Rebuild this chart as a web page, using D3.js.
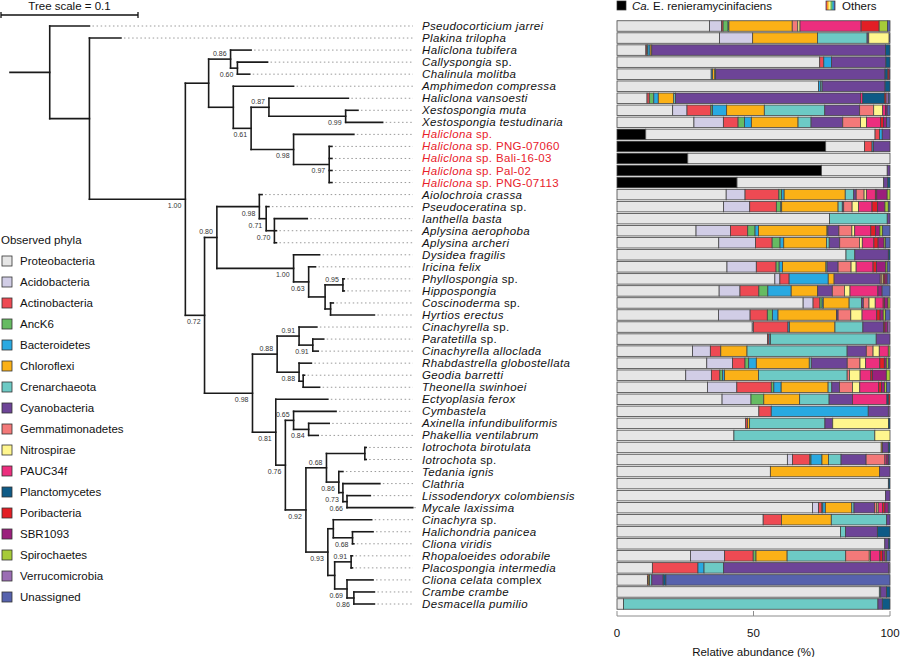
<!DOCTYPE html>
<html>
<head>
<meta charset="utf-8">
<script src="https://cdn.jsdelivr.net/npm/d3@7"></script>
<style>
  body { margin: 0; background: #fff; }
  text { font-family: "Liberation Sans", Arial, sans-serif; }
</style>
</head>
<body>
<svg id="chart" width="900" height="657"></svg>
<script>
// sponge species, in tree (top to bottom) order; text after "|" is upright
const species = [
  "Pseudocorticium jarrei", "Plakina trilopha", "Haliclona tubifera", "Callyspongia| sp.",
  "Chalinula molitba", "Amphimedon compressa", "Haliclona vansoesti", "Xestospongia muta",
  "Xestospongia testudinaria", "Haliclona| sp.", "Haliclona| sp. PNG-07060", "Haliclona| sp. Bali-16-03",
  "Haliclona| sp. Pal-02", "Haliclona| sp. PNG-07113", "Aiolochroia crassa", "Pseudoceratina| sp.",
  "Ianthella basta", "Aplysina aerophoba", "Aplysina archeri", "Dysidea fragilis",
  "Iricina felix", "Phyllospongia| sp.", "Hippospongia", "Coscinoderma| sp.",
  "Hyrtios erectus", "Cinachyrella| sp.", "Paratetilla| sp.", "Cinachyrella alloclada",
  "Rhabdastrella globostellata", "Geodia barretti", "Theonella swinhoei", "Ectyoplasia ferox",
  "Cymbastela", "Axinella infundibuliformis", "Phakellia ventilabrum", "Iotrochota birotulata",
  "Iotrochota| sp.", "Tedania ignis", "Clathria", "Lissodendoryx colombiensis",
  "Mycale laxissima", "Cinachyra| sp.", "Halichondria panicea", "Cliona viridis",
  "Rhopaloeides odorabile", "Placospongia intermedia", "Cliona celata| complex", "Crambe crambe",
  "Desmacella pumilio"
];
// Haliclona hosts of Ca. E. renieramycinifaciens (red labels)
const highlighted = [9, 10, 11, 12, 13];

// tree: L(leaf index, branch length), N(branch length, support, label side, children)
const L = (i, l) => ({ leaf: i, l });
const N = (l, s, p, c) => ({ l, s, p, c });
const tree = N(0.029, null, null, [
  L(0, 0.029),
  N(0.029, null, null, [
    L(1, 0.023),
    N(0.070, "1.00", "b", [
      N(0.017, null, null, [
        N(0.016, "0.86", "a", [
          L(2, 0.015),
          N(0.005, "0.60", "b", [L(3, 0.022), L(4, 0.009)])
        ]),
        N(0.018, null, null, [
          L(5, 0.044),
          N(0.013, "0.61", "b", [
            N(0.013, "0.87", "a", [
              L(6, 0.058),
              N(0.056, "0.99", "b", [L(7, 0.009), L(8, 0.027)])
            ]),
            N(0.031, "0.98", "b", [
              L(9, 0.044),
              N(0.026, "0.97", "b", [L(10, 0.002), L(11, 0.002), L(12, 0.002), L(13, 0.002)])
            ])
          ])
        ])
      ]),
      N(0.014, "0.72", "b", [
        N(0.009, "0.80", "a", [
          N(0.031, "0.98", "b", [
            L(14, 0.002),
            N(0.005, "0.71", "b", [
              L(15, 0.002),
              N(0.006, "0.70", "b", [L(16, 0.024), L(17, 0.0015), L(18, 0.0015)])
            ])
          ]),
          N(0.056, "1.00", "b", [
            L(19, 0.019),
            N(0.011, "0.63", "b", [
              L(20, 0.005),
              N(0.012, null, null, [
                N(0.013, "0.95", "a", [L(21, 0.001), L(22, 0.001)]),
                N(0.004, null, null, [L(23, 0.002), L(24, 0.032)])
              ])
            ])
          ])
        ]),
        N(0.035, "0.98", "b", [
          N(0.018, "0.88", "a", [
            N(0.016, "0.91", "a", [
              L(25, 0.013),
              N(0.010, "0.91", "b", [L(26, 0.008), L(27, 0.004)])
            ]),
            N(0.016, "0.88", "b", [
              L(28, 0.009),
              N(0.003, null, null, [L(29, 0.001), L(30, 0.012)])
            ])
          ]),
          N(0.017, "0.81", "b", [
            L(31, 0.038),
            N(0.007, "0.76", "b", [
              N(0.006, "0.65", "a", [
                L(32, 0.031),
                N(0.011, "0.84", "b", [L(33, 0.015), L(34, 0.007)])
              ]),
              N(0.015, "0.92", "b", [
                N(0.015, "0.68", "a", [
                  N(0.028, null, null, [L(35, 0.001), L(36, 0.001)]),
                  N(0.009, "0.86", "b", [
                    L(37, 0.003),
                    N(0.003, "0.73", "b", [
                      L(38, 0.027),
                      N(0.003, "0.66", "b", [L(39, 0.017), L(40, 0.048)])
                    ])
                  ])
                ]),
                N(0.016, "0.93", "b", [
                  N(0.004, null, null, [
                    L(41, 0.028),
                    N(0.014, "0.68", "b", [L(42, 0.015), L(43, 0.001)])
                  ]),
                  N(0.005, null, null, [
                    N(0.012, "0.91", "a", [L(44, 0.001), L(45, 0.001)]),
                    N(0.009, "0.69", "b", [
                      L(46, 0.019),
                      N(0.005, "0.86", "b", [L(47, 0.015), L(48, 0.015)])
                    ])
                  ])
                ])
              ])
            ])
          ])
        ])
      ])
    ])
  ])
]);

// stack order: Ca. E. first, then the observed phyla
const phyla = ["Proteobacteria", "Acidobacteria", "Actinobacteria", "AncK6", "Bacteroidetes",
  "Chloroflexi", "Crenarchaeota", "Cyanobacteria", "Gemmatimonadetes", "Nitrospirae", "PAUC34f",
  "Planctomycetes", "Poribacteria", "SBR1093", "Spirochaetes", "Verrucomicrobia", "Unassigned"];
const phylaColors = ["#e6e6e6", "#d1cde6", "#ee4a53", "#66bb62", "#29a9e1", "#fbb117", "#6dcac5",
  "#6d4497", "#f37979", "#fff68e", "#ec2e7e", "#0e5a86", "#e31e25", "#9b1f7c", "#a6cb38", "#9b6db4", "#5662ad"];
const keys = ["Ca. E. renieramycinifaciens", ...phyla];
const keyColors = ["#000000", ...phylaColors];

// relative abundance (%) per species: [CaE, then phyla in the order above]
const abundance = [
  [0, 33.3, 4.3, 0.6, 1.8, 0.3, 22.8, 0, 0, 2.0, 0.8, 22.0, 0, 6.5, 0, 3.0, 0, 0.9],
  [0, 37.2, 12.0, 0, 0, 0, 23.5, 18.0, 0.6, 0, 7.4, 0, 0, 0, 0, 0, 0, 0.3],
  [0, 10.4, 0, 0.4, 0.3, 0.8, 0.6, 0, 84.1, 0, 0, 0, 1.6, 0, 0, 0, 0, 0],
  [0, 74.1, 0, 1.5, 0, 2.8, 0, 0, 19.9, 0, 0, 0, 1.5, 0, 0, 0, 0, 0],
  [0, 34.1, 0, 0, 0, 0.5, 0.8, 0.3, 61.3, 0, 0, 0, 1.0, 0.5, 0.3, 0, 0, 0],
  [0, 73.4, 0, 0, 0, 0.8, 0, 0.5, 22.9, 0, 0, 0, 1.8, 0, 0, 0, 0, 0],
  [0, 10.7, 0, 0.8, 1.6, 1.6, 5.5, 0.6, 65.9, 0, 0, 0.8, 7.7, 0.6, 0, 0, 0.8, 0.6],
  [0, 19.8, 5.1, 8.5, 0.6, 5.0, 13.4, 21.5, 12.4, 5.0, 3.2, 1.0, 0, 0, 0.6, 0, 0, 1.0],
  [0, 27.2, 10.4, 5.2, 2.3, 2.4, 16.5, 4.6, 11.2, 6.3, 2.1, 5.0, 0, 1.0, 1.1, 0, 0, 1.2],
  [10.4, 83.0, 0, 1.6, 0, 1.0, 0, 0, 2.8, 0, 0, 0, 0, 0, 0, 0, 0, 0],
  [75.6, 14.1, 0, 2.7, 0, 0.5, 0, 0, 6.0, 0, 0, 0, 0, 0, 0, 0, 0, 0],
  [25.9, 74.0, 0, 0, 0, 0, 0, 0, 0, 0, 0, 0, 0, 0, 0, 0, 0, 0],
  [74.4, 23.9, 0, 0, 0, 0, 0, 0, 1.0, 0, 0, 0, 0, 0, 0, 0, 0, 0],
  [43.7, 53.4, 0, 0, 0, 0, 0, 0, 1.5, 0, 0, 0, 0.8, 0, 0, 0, 0, 0],
  [0, 38.8, 6.7, 12.0, 1.0, 0.9, 21.7, 3.0, 0.9, 2.8, 0.8, 3.2, 0, 0.5, 3.7, 1.0, 0, 0],
  [0, 38.0, 9.3, 9.5, 1.6, 0.3, 20.1, 1.5, 0.5, 3.0, 2.3, 4.8, 0, 2.0, 2.6, 1.2, 0, 0.6],
  [0, 77.4, 0, 0, 0, 0, 0, 21.0, 1.0, 0, 0, 0, 0, 0, 0, 0, 0, 0],
  [0, 28.0, 12.2, 6.1, 2.6, 1.2, 24.3, 0.3, 3.9, 4.6, 1.0, 5.7, 0, 1.7, 1.5, 1.0, 0, 2.6],
  [0, 36.0, 13.0, 5.9, 2.8, 1.3, 15.1, 1.0, 3.7, 7.0, 1.0, 4.1, 0, 1.5, 2.1, 0.5, 0, 1.6],
  [0, 83.3, 0, 0, 0, 0, 0, 3.2, 12.2, 0, 0, 0, 0.6, 0, 0, 0, 0, 0],
  [0, 39.0, 10.4, 7.0, 1.1, 1.2, 15.4, 0.4, 3.9, 4.6, 1.8, 6.0, 0, 1.2, 3.2, 0.6, 0, 1.0],
  [0, 56.5, 1.8, 3.3, 0, 14.0, 2.1, 0, 16.5, 0.6, 0.5, 0, 0, 0.6, 0.8, 0, 0, 1.0],
  [0, 36.3, 7.4, 6.7, 3.2, 8.3, 9.4, 0, 5.2, 4.3, 2.0, 9.9, 0, 0, 1.5, 0, 0, 2.8],
  [0, 65.6, 3.5, 2.4, 0.8, 0.4, 9.1, 4.4, 0.6, 2.0, 2.2, 2.8, 0, 0.5, 1.2, 0.7, 0, 0],
  [0, 36.0, 11.2, 6.1, 1.8, 2.0, 20.7, 0, 0.6, 4.5, 4.0, 5.2, 0, 1.2, 1.1, 0.8, 0, 1.6],
  [0, 48.4, 0.4, 12.4, 0, 0.5, 16.3, 10.0, 7.4, 0, 0, 0, 0, 0.5, 1.0, 0, 0.8, 0],
  [0, 54.6, 0, 0.6, 0, 0.5, 0, 38.4, 5.0, 0, 0, 0, 0, 0, 0, 0, 0, 0],
  [0, 26.8, 6.3, 3.7, 0, 0, 9.3, 35.5, 6.8, 2.4, 2.2, 3.2, 0, 0, 0, 0.6, 0, 0],
  [0, 31.7, 9.1, 4.4, 1.3, 2.7, 18.7, 0.7, 12.7, 4.5, 2.0, 5.0, 0, 1.6, 0.7, 0.7, 0, 0.6],
  [0, 24.4, 9.1, 3.0, 1.0, 0.7, 12.0, 31.5, 0, 0.8, 3.8, 3.8, 0, 0.6, 4.9, 1.3, 0, 0],
  [0, 32.0, 10.4, 12.2, 0.9, 2.6, 16.6, 1.3, 2.7, 4.6, 2.6, 6.7, 0, 1.0, 1.1, 0.7, 0, 1.2],
  [0, 37.8, 10.4, 0, 4.6, 0, 12.9, 10.6, 8.4, 0, 0, 12.4, 0.6, 0.5, 0, 0, 0, 0],
  [0, 51.5, 0, 4.5, 0, 35.2, 0, 0, 7.3, 0, 0, 0, 0, 0, 0, 0, 0.6, 0],
  [0, 46.3, 0, 0.6, 0, 0, 0.8, 27.1, 2.8, 0, 20.1, 0, 0.5, 0, 0, 0, 0, 0],
  [0, 42.4, 0, 0, 0, 0, 0, 51.1, 0, 0, 5.5, 0, 0, 0, 0, 0, 0, 0],
  [0, 96.3, 0, 0, 0, 0, 0.5, 0, 2.1, 0, 0, 0, 0.6, 0, 0, 0, 0, 0],
  [0, 60.6, 1.8, 6.2, 0.4, 3.9, 2.3, 4.5, 8.9, 6.7, 0, 0.7, 0, 0, 0.6, 0, 0, 0.5],
  [0, 55.5, 0, 0, 0, 0, 39.5, 0, 3.8, 0, 0, 0, 0, 0, 0, 0, 0, 0],
  [0, 99.4, 0, 0, 0, 0, 0, 0, 0, 0, 0, 0, 0.6, 0, 0, 0, 0, 0],
  [0, 98.2, 0, 0, 0, 0, 0, 0, 1.6, 0, 0, 0, 0, 0, 0, 0, 0, 0],
  [0, 69.5, 2.2, 1.2, 0.3, 0.9, 9.4, 0.8, 7.3, 0.8, 0.5, 1.6, 0, 0.8, 1.2, 0, 0, 0.6],
  [0, 52.8, 0, 6.6, 0, 0, 18.0, 20.0, 1.2, 0, 0, 0, 0, 0, 0, 0, 0, 0],
  [0, 81.5, 0, 0, 0, 0, 0, 1.8, 11.6, 0, 0, 0, 4.6, 0, 0, 0, 0, 0],
  [0, 97.9, 0, 0, 0, 0, 0, 0, 1.4, 0, 0, 0, 0.5, 0, 0, 0, 0, 0],
  [0, 26.2, 12.2, 10.2, 1.0, 0, 11.1, 20.9, 0, 8.4, 0.4, 3.4, 0, 0.9, 1.0, 0.5, 0, 1.2],
  [0, 12.8, 0, 16.5, 0, 2.2, 0, 7.1, 59.8, 0, 0, 0, 0, 0, 0, 0, 0.4, 0],
  [0, 11.0, 0, 0.3, 0, 0, 0.5, 0.8, 4.1, 0, 0, 0, 1.0, 0, 0, 0, 0, 81.1],
  [0, 96.0, 0, 0, 0, 0, 0, 0.5, 2.1, 0, 0, 0, 1.3, 0, 0, 0, 0, 0],
  [0, 2.4, 0, 0, 0, 0, 0, 93.0, 1.6, 0, 0, 0, 2.8, 0, 0, 0, 0, 0]
];
const axisTicks = [0, 50, 100];

const svg = d3.select('#chart');

/*
** Tree
*/
const xTree = d3.scaleLinear().domain([0, 0.1]).range([10, 147]);
const yRow = d3.scalePoint().domain(d3.range(species.length)).range([26, 604]);
const leaderEnd = 413;

const root = d3.hierarchy(tree, d => d.c);
// cumulative branch length from the left edge
root.eachBefore(d => { d.dist = (d.parent ? d.parent.dist : 0) + d.data.l; });
root.eachAfter(d => {
  d.py = d.children
    ? (d.children[0].py + d.children[d.children.length - 1].py) / 2
    : yRow(d.data.leaf);
});

const treeGroup = svg.append('g').attr('class', 'tree');

// dotted leaders out to the names
treeGroup.selectAll('.leader')
  .data(root.leaves())
  .enter().append('line')
    .attr('class', 'leader')
    .attr('x1', d => xTree(d.dist) + 3)
    .attr('x2', leaderEnd)
    .attr('y1', d => d.py).attr('y2', d => d.py)
    .attr('stroke', '#9a9a9a')
    .attr('stroke-width', 1)
    .attr('stroke-dasharray', '1.5,2.6');

// horizontal branches
treeGroup.selectAll('.hbranch')
  .data(root.descendants())
  .enter().append('line')
    .attr('class', 'hbranch')
    .attr('x1', d => xTree(d.parent ? d.parent.dist : 0))
    .attr('x2', d => xTree(d.dist))
    .attr('y1', d => d.py).attr('y2', d => d.py)
    .attr('stroke', '#1a1a1a')
    .attr('stroke-width', 1.6)
    .attr('stroke-linecap', 'square');

// vertical connectors
treeGroup.selectAll('.vbranch')
  .data(root.descendants().filter(d => d.children))
  .enter().append('line')
    .attr('class', 'vbranch')
    .attr('x1', d => xTree(d.dist)).attr('x2', d => xTree(d.dist))
    .attr('y1', d => d.children[0].py)
    .attr('y2', d => d.children[d.children.length - 1].py)
    .attr('stroke', '#1a1a1a')
    .attr('stroke-width', 1.6)
    .attr('stroke-linecap', 'square');

// support values
treeGroup.selectAll('.support')
  .data(root.descendants().filter(d => d.data.s))
  .enter().append('text')
    .attr('class', 'support')
    .attr('x', d => xTree(d.dist) - 4)
    .attr('y', d => d.data.p === 'a' ? d.py - 3 : d.py + 9)
    .attr('text-anchor', 'end')
    .attr('font-size', '7px')
    .attr('fill', '#333')
    .text(d => d.data.s);

// species names
const names = treeGroup.selectAll('.name')
  .data(species)
  .enter().append('text')
    .attr('class', 'name')
    .attr('x', 422)
    .attr('y', (d, i) => yRow(i) + 4)
    .attr('font-size', '11.5px')
    .attr('letter-spacing', '0.35px')
    .attr('fill', (d, i) => highlighted.includes(i) ? '#e8212b' : '#111');
names.append('tspan').attr('font-style', 'italic').text(d => d.split('|')[0]);
names.append('tspan').text(d => d.split('|')[1] || '');

// tree scale bar
const scaleLen = xTree(0.1) - xTree(0);
const scaleG = svg.append('g').attr('transform', 'translate(1,15)');
scaleG.append('line').attr('x1', 0).attr('x2', scaleLen).attr('stroke', '#111').attr('stroke-width', 1.3);
scaleG.selectAll('.cap').data([0, scaleLen]).enter().append('line')
  .attr('x1', d => d).attr('x2', d => d).attr('y1', -3).attr('y2', 3)
  .attr('stroke', '#111').attr('stroke-width', 1.3);
scaleG.append('text').attr('x', scaleLen / 2).attr('y', -5).attr('text-anchor', 'middle')
  .attr('font-size', '11.5px').attr('fill', '#111').text('Tree scale = 0.1');

/*
** Stacked bars
*/
const xBar = d3.scaleLinear().domain([0, 100]).range([617, 890]);
const barH = 10.5;
const normalized = abundance.map(r => { const s = d3.sum(r); return r.map(v => v / s * 100); });
const stacked = d3.stack().keys(d3.range(keys.length)).value((d, k) => d[k])(normalized);

const barGroup = svg.append('g').attr('class', 'bars');
barGroup.selectAll('.layer')
  .data(stacked)
  .enter().append('g')
    .attr('class', 'layer')
    .attr('fill', d => keyColors[d.key])
  .selectAll('rect')
  .data(d => d.map((s, i) => ({ s, i })).filter(e => e.s[1] - e.s[0] > 0))
  .enter().append('rect')
    .attr('x', e => xBar(e.s[0]))
    .attr('width', e => xBar(e.s[1]) - xBar(e.s[0]))
    .attr('y', e => yRow(e.i) - barH / 2)
    .attr('height', barH)
    .attr('stroke', '#454545')
    .attr('stroke-width', 0.8);

// x axis
const axisG = svg.append('g').attr('transform', 'translate(0,616)');
axisG.append('line').attr('x1', xBar(0)).attr('x2', xBar(100)).attr('stroke', '#8c8c8c').attr('stroke-width', 1);
axisG.selectAll('.tick').data(axisTicks).enter().append('line')
  .attr('x1', d => xBar(d)).attr('x2', d => xBar(d)).attr('y1', 0).attr('y2', -5)
  .attr('stroke', '#8c8c8c').attr('stroke-width', 1);
axisG.selectAll('.ticklabel').data(axisTicks).enter().append('text')
  .attr('x', d => xBar(d)).attr('y', 21).attr('text-anchor', 'middle')
  .attr('font-size', '11.5px').attr('fill', '#111').text(d => d);
axisG.append('text').attr('x', (xBar(0) + xBar(100)) / 2).attr('y', 40).attr('text-anchor', 'middle')
  .attr('font-size', '11.5px').attr('fill', '#111').text('Relative abundance (%)');

/*
** Legends
*/
const defs = svg.append('defs');
const grad = defs.append('linearGradient').attr('id', 'others');
['#ec2e7e', '#fbb117', '#fff68e', '#66bb62', '#29a9e1', '#6d4497'].forEach((c, i, a) =>
  grad.append('stop').attr('offset', i / (a.length - 1)).attr('stop-color', c));

const topLegend = svg.append('g');
topLegend.append('rect').attr('x', 617).attr('y', 1).attr('width', 9).attr('height', 9)
  .attr('fill', '#000').attr('stroke', '#333').attr('stroke-width', 0.7);
const caText = topLegend.append('text').attr('x', 632).attr('y', 10).attr('font-size', '11.5px').attr('fill', '#111');
caText.append('tspan').attr('font-style', 'italic').text('Ca.');
caText.append('tspan').text(' E. renieramycinifaciens');
topLegend.append('rect').attr('x', 826).attr('y', 1).attr('width', 9).attr('height', 9)
  .attr('fill', 'url(#others)').attr('stroke', '#333').attr('stroke-width', 0.7);
topLegend.append('text').attr('x', 842).attr('y', 10).attr('font-size', '11.5px').attr('fill', '#111').text('Others');

const phylaLegend = svg.append('g');
phylaLegend.append('text').attr('x', 1).attr('y', 244).attr('font-size', '11.5px').attr('fill', '#111').text('Observed phyla');
const item = phylaLegend.selectAll('.item').data(phyla).enter().append('g')
  .attr('transform', (d, i) => `translate(0,${261 + i * 21})`);
item.append('rect').attr('x', 2).attr('y', -5).attr('width', 10).attr('height', 10)
  .attr('fill', (d, i) => phylaColors[i]).attr('stroke', '#333').attr('stroke-width', 0.8);
item.append('text').attr('x', 20).attr('y', 4).attr('font-size', '11.5px').attr('fill', '#111').text(d => d);
</script>
</body>
</html>
